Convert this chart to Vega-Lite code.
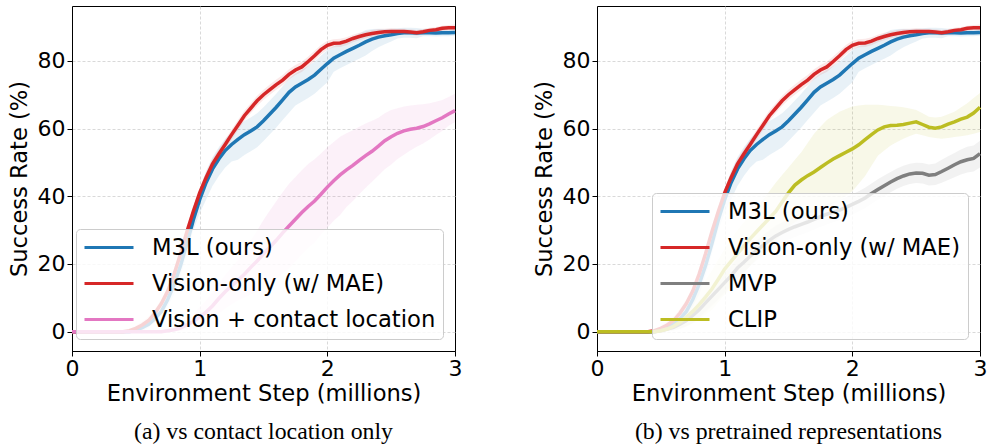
{
  "$schema": "https://vega.github.io/schema/vega-lite/v6.json",
  "background": "white",
  "padding": {"left": 7, "top": 5, "right": 2, "bottom": 2},
  "spacing": 69,
  "config": {
    "font": "DejaVu Sans",
    "view": {"stroke": "black", "strokeWidth": 1},
    "axis": {
      "labelFont": "DejaVu Sans", "titleFont": "DejaVu Sans",
      "labelFontSize": 22, "titleFontSize": 22.6, "titleFontWeight": "normal",
      "labelColor": "black", "titleColor": "black",
      "domainColor": "black", "tickColor": "black", "tickSize": 5, "labelPadding": 2,
      "gridColor": "#cfcfcf", "gridDash": [3, 2], "gridWidth": 0.8
    },
    "title": {"font": "Liberation Serif", "fontSize": 23.8, "fontWeight": "normal", "color": "black"}
  },
  "datasets": {
    "d": [
      {"s":"M3L (ours)","x":0,"y":0,"lo":0,"hi":0},
      {"s":"M3L (ours)","x":0.4,"y":0,"lo":0,"hi":0},
      {"s":"M3L (ours)","x":0.45,"y":0,"lo":0,"hi":0},
      {"s":"M3L (ours)","x":0.5,"y":0.5,"lo":0,"hi":1},
      {"s":"M3L (ours)","x":0.55,"y":1.2,"lo":0.2,"hi":2.7},
      {"s":"M3L (ours)","x":0.6,"y":2.2,"lo":1.2,"hi":3.7},
      {"s":"M3L (ours)","x":0.65,"y":3.8,"lo":2.8,"hi":5.3},
      {"s":"M3L (ours)","x":0.7,"y":6,"lo":5,"hi":7.5},
      {"s":"M3L (ours)","x":0.75,"y":9.5,"lo":7.5,"hi":11.5},
      {"s":"M3L (ours)","x":0.8,"y":14,"lo":11,"hi":17},
      {"s":"M3L (ours)","x":0.85,"y":19.5,"lo":16.5,"hi":22.5},
      {"s":"M3L (ours)","x":0.9,"y":26,"lo":23,"hi":29},
      {"s":"M3L (ours)","x":0.95,"y":33,"lo":30,"hi":36},
      {"s":"M3L (ours)","x":1.0,"y":39,"lo":35,"hi":42},
      {"s":"M3L (ours)","x":1.05,"y":44,"lo":39,"hi":47.5},
      {"s":"M3L (ours)","x":1.1,"y":48,"lo":43,"hi":51.5},
      {"s":"M3L (ours)","x":1.15,"y":51,"lo":46,"hi":54.5},
      {"s":"M3L (ours)","x":1.2,"y":53.5,"lo":48.5,"hi":57},
      {"s":"M3L (ours)","x":1.25,"y":55.3,"lo":50.3,"hi":58.8},
      {"s":"M3L (ours)","x":1.3,"y":56.8,"lo":50.8,"hi":60.8},
      {"s":"M3L (ours)","x":1.35,"y":58.2,"lo":52.2,"hi":62.2},
      {"s":"M3L (ours)","x":1.4,"y":59.3,"lo":53.3,"hi":63.3},
      {"s":"M3L (ours)","x":1.45,"y":60.5,"lo":54.5,"hi":64.5},
      {"s":"M3L (ours)","x":1.5,"y":62.3,"lo":56.3,"hi":66.3},
      {"s":"M3L (ours)","x":1.55,"y":64.3,"lo":58.3,"hi":68.3},
      {"s":"M3L (ours)","x":1.6,"y":66.3,"lo":60.3,"hi":70.3},
      {"s":"M3L (ours)","x":1.65,"y":68.5,"lo":62.5,"hi":72.5},
      {"s":"M3L (ours)","x":1.7,"y":70.7,"lo":64.7,"hi":74.7},
      {"s":"M3L (ours)","x":1.75,"y":72.3,"lo":66.8,"hi":76.3},
      {"s":"M3L (ours)","x":1.8,"y":73.4,"lo":67.9,"hi":77.4},
      {"s":"M3L (ours)","x":1.85,"y":74.5,"lo":69,"hi":78.5},
      {"s":"M3L (ours)","x":1.9,"y":75.8,"lo":70.3,"hi":79.8},
      {"s":"M3L (ours)","x":1.95,"y":77.5,"lo":72,"hi":81.5},
      {"s":"M3L (ours)","x":2.0,"y":79.2,"lo":73.7,"hi":83.2},
      {"s":"M3L (ours)","x":2.05,"y":80.8,"lo":76.8,"hi":84.3},
      {"s":"M3L (ours)","x":2.1,"y":81.8,"lo":77.8,"hi":85.3},
      {"s":"M3L (ours)","x":2.15,"y":82.8,"lo":78.8,"hi":86.3},
      {"s":"M3L (ours)","x":2.2,"y":83.7,"lo":79.7,"hi":87.2},
      {"s":"M3L (ours)","x":2.25,"y":84.6,"lo":80.6,"hi":88.1},
      {"s":"M3L (ours)","x":2.3,"y":85.6,"lo":81.6,"hi":89.1},
      {"s":"M3L (ours)","x":2.35,"y":86.4,"lo":82.9,"hi":89.4},
      {"s":"M3L (ours)","x":2.4,"y":87,"lo":84,"hi":89.5},
      {"s":"M3L (ours)","x":2.45,"y":87.4,"lo":84.9,"hi":89.4},
      {"s":"M3L (ours)","x":2.5,"y":87.7,"lo":85.7,"hi":89.5},
      {"s":"M3L (ours)","x":2.55,"y":88.1,"lo":86.6,"hi":89.6},
      {"s":"M3L (ours)","x":2.6,"y":88.3,"lo":86.8,"hi":89.8},
      {"s":"M3L (ours)","x":2.65,"y":88.3,"lo":86.8,"hi":89.8},
      {"s":"M3L (ours)","x":2.7,"y":88.2,"lo":86.7,"hi":89.7},
      {"s":"M3L (ours)","x":2.75,"y":88.3,"lo":87.3,"hi":89.5},
      {"s":"M3L (ours)","x":2.8,"y":88.3,"lo":87.3,"hi":89.5},
      {"s":"M3L (ours)","x":2.85,"y":88.2,"lo":87.2,"hi":89.4},
      {"s":"M3L (ours)","x":2.9,"y":88.3,"lo":87.3,"hi":89.5},
      {"s":"M3L (ours)","x":2.95,"y":88.3,"lo":87.3,"hi":89.5},
      {"s":"M3L (ours)","x":3.0,"y":88.4,"lo":87.4,"hi":89.6},

      {"s":"Vision-only (w/ MAE)","x":0,"y":0,"lo":0,"hi":0},
      {"s":"Vision-only (w/ MAE)","x":0.4,"y":0,"lo":0,"hi":0},
      {"s":"Vision-only (w/ MAE)","x":0.45,"y":0.3,"lo":0,"hi":0.8},
      {"s":"Vision-only (w/ MAE)","x":0.5,"y":1,"lo":0.3,"hi":1.8},
      {"s":"Vision-only (w/ MAE)","x":0.55,"y":2,"lo":1,"hi":3},
      {"s":"Vision-only (w/ MAE)","x":0.6,"y":3.3,"lo":2.1,"hi":4.5},
      {"s":"Vision-only (w/ MAE)","x":0.65,"y":5.5,"lo":4.2,"hi":6.8},
      {"s":"Vision-only (w/ MAE)","x":0.7,"y":8.3,"lo":7,"hi":9.6},
      {"s":"Vision-only (w/ MAE)","x":0.75,"y":12,"lo":10.6,"hi":13.4},
      {"s":"Vision-only (w/ MAE)","x":0.8,"y":17,"lo":15.5,"hi":18.5},
      {"s":"Vision-only (w/ MAE)","x":0.85,"y":23,"lo":21.5,"hi":24.5},
      {"s":"Vision-only (w/ MAE)","x":0.9,"y":29.5,"lo":28,"hi":31},
      {"s":"Vision-only (w/ MAE)","x":0.95,"y":35.5,"lo":34,"hi":37},
      {"s":"Vision-only (w/ MAE)","x":1.0,"y":41,"lo":39.5,"hi":42.5},
      {"s":"Vision-only (w/ MAE)","x":1.05,"y":45.5,"lo":44,"hi":47},
      {"s":"Vision-only (w/ MAE)","x":1.1,"y":49.5,"lo":48,"hi":51},
      {"s":"Vision-only (w/ MAE)","x":1.15,"y":52.5,"lo":51,"hi":54},
      {"s":"Vision-only (w/ MAE)","x":1.2,"y":55.3,"lo":53.8,"hi":56.8},
      {"s":"Vision-only (w/ MAE)","x":1.25,"y":58.2,"lo":56.7,"hi":59.7},
      {"s":"Vision-only (w/ MAE)","x":1.3,"y":61,"lo":59.5,"hi":62.5},
      {"s":"Vision-only (w/ MAE)","x":1.35,"y":63.8,"lo":62.3,"hi":65.3},
      {"s":"Vision-only (w/ MAE)","x":1.4,"y":66,"lo":64.5,"hi":67.5},
      {"s":"Vision-only (w/ MAE)","x":1.45,"y":68.2,"lo":66.7,"hi":69.7},
      {"s":"Vision-only (w/ MAE)","x":1.5,"y":70,"lo":68.5,"hi":71.5},
      {"s":"Vision-only (w/ MAE)","x":1.55,"y":71.5,"lo":70,"hi":73},
      {"s":"Vision-only (w/ MAE)","x":1.6,"y":73,"lo":71.5,"hi":74.5},
      {"s":"Vision-only (w/ MAE)","x":1.65,"y":74.3,"lo":72.8,"hi":75.8},
      {"s":"Vision-only (w/ MAE)","x":1.7,"y":76,"lo":74.5,"hi":77.5},
      {"s":"Vision-only (w/ MAE)","x":1.75,"y":77.3,"lo":75.8,"hi":78.8},
      {"s":"Vision-only (w/ MAE)","x":1.8,"y":78.2,"lo":76.7,"hi":79.7},
      {"s":"Vision-only (w/ MAE)","x":1.85,"y":79.8,"lo":78.3,"hi":81.3},
      {"s":"Vision-only (w/ MAE)","x":1.9,"y":81.5,"lo":80,"hi":83},
      {"s":"Vision-only (w/ MAE)","x":1.95,"y":83.3,"lo":81.9,"hi":84.7},
      {"s":"Vision-only (w/ MAE)","x":2.0,"y":84.6,"lo":83.3,"hi":85.9},
      {"s":"Vision-only (w/ MAE)","x":2.05,"y":85.2,"lo":84,"hi":86.4},
      {"s":"Vision-only (w/ MAE)","x":2.1,"y":85.3,"lo":84.1,"hi":86.5},
      {"s":"Vision-only (w/ MAE)","x":2.15,"y":85.8,"lo":84.6,"hi":87},
      {"s":"Vision-only (w/ MAE)","x":2.2,"y":86.6,"lo":85.5,"hi":87.7},
      {"s":"Vision-only (w/ MAE)","x":2.25,"y":87.2,"lo":86.1,"hi":88.3},
      {"s":"Vision-only (w/ MAE)","x":2.3,"y":87.7,"lo":86.7,"hi":88.7},
      {"s":"Vision-only (w/ MAE)","x":2.35,"y":88.1,"lo":87.1,"hi":89.1},
      {"s":"Vision-only (w/ MAE)","x":2.4,"y":88.4,"lo":87.4,"hi":89.4},
      {"s":"Vision-only (w/ MAE)","x":2.45,"y":88.6,"lo":87.7,"hi":89.5},
      {"s":"Vision-only (w/ MAE)","x":2.5,"y":88.7,"lo":87.8,"hi":89.6},
      {"s":"Vision-only (w/ MAE)","x":2.55,"y":88.7,"lo":87.9,"hi":89.5},
      {"s":"Vision-only (w/ MAE)","x":2.6,"y":88.7,"lo":87.9,"hi":89.5},
      {"s":"Vision-only (w/ MAE)","x":2.65,"y":88.5,"lo":87.7,"hi":89.3},
      {"s":"Vision-only (w/ MAE)","x":2.7,"y":88.3,"lo":87.5,"hi":89.1},
      {"s":"Vision-only (w/ MAE)","x":2.75,"y":88.6,"lo":87.8,"hi":89.4},
      {"s":"Vision-only (w/ MAE)","x":2.8,"y":89,"lo":88.2,"hi":89.8},
      {"s":"Vision-only (w/ MAE)","x":2.85,"y":89.2,"lo":88.4,"hi":90},
      {"s":"Vision-only (w/ MAE)","x":2.9,"y":89.6,"lo":88.8,"hi":90.4},
      {"s":"Vision-only (w/ MAE)","x":2.95,"y":89.8,"lo":89,"hi":90.6},
      {"s":"Vision-only (w/ MAE)","x":3.0,"y":89.8,"lo":89,"hi":90.7},

      {"s":"Vision + contact location","x":0,"y":0,"lo":0,"hi":0},
      {"s":"Vision + contact location","x":0.7,"y":0,"lo":0,"hi":0},
      {"s":"Vision + contact location","x":0.75,"y":0.3,"lo":0,"hi":0.6},
      {"s":"Vision + contact location","x":0.8,"y":0.6,"lo":0.1,"hi":1.1},
      {"s":"Vision + contact location","x":0.85,"y":1.1,"lo":0.2,"hi":2},
      {"s":"Vision + contact location","x":0.9,"y":2,"lo":0.5,"hi":3.5},
      {"s":"Vision + contact location","x":0.95,"y":3,"lo":0.8,"hi":5.2},
      {"s":"Vision + contact location","x":1.0,"y":4.3,"lo":1.3,"hi":7.3},
      {"s":"Vision + contact location","x":1.05,"y":5.8,"lo":2.3,"hi":9.3},
      {"s":"Vision + contact location","x":1.1,"y":7.6,"lo":3.6,"hi":11.6},
      {"s":"Vision + contact location","x":1.15,"y":9.8,"lo":5.3,"hi":14.3},
      {"s":"Vision + contact location","x":1.2,"y":11.8,"lo":6.8,"hi":16.8},
      {"s":"Vision + contact location","x":1.25,"y":13.5,"lo":8,"hi":19},
      {"s":"Vision + contact location","x":1.3,"y":15.2,"lo":9.2,"hi":21.2},
      {"s":"Vision + contact location","x":1.35,"y":17,"lo":10,"hi":24},
      {"s":"Vision + contact location","x":1.4,"y":19,"lo":11,"hi":27},
      {"s":"Vision + contact location","x":1.45,"y":20.9,"lo":11.9,"hi":29.9},
      {"s":"Vision + contact location","x":1.5,"y":23,"lo":13,"hi":33},
      {"s":"Vision + contact location","x":1.55,"y":25,"lo":14.2,"hi":35.8},
      {"s":"Vision + contact location","x":1.6,"y":27,"lo":15.5,"hi":38.5},
      {"s":"Vision + contact location","x":1.65,"y":29.2,"lo":17.2,"hi":41.2},
      {"s":"Vision + contact location","x":1.7,"y":31.2,"lo":18.7,"hi":43.7},
      {"s":"Vision + contact location","x":1.75,"y":33.2,"lo":20.7,"hi":45.7},
      {"s":"Vision + contact location","x":1.8,"y":35.2,"lo":22.7,"hi":47.7},
      {"s":"Vision + contact location","x":1.85,"y":37,"lo":24.7,"hi":49.5},
      {"s":"Vision + contact location","x":1.9,"y":38.6,"lo":26.3,"hi":50.9},
      {"s":"Vision + contact location","x":1.95,"y":40.6,"lo":28.6,"hi":52.6},
      {"s":"Vision + contact location","x":2.0,"y":42.7,"lo":30.7,"hi":54.5},
      {"s":"Vision + contact location","x":2.05,"y":44.6,"lo":32.8,"hi":56},
      {"s":"Vision + contact location","x":2.1,"y":46.3,"lo":34.5,"hi":57.6},
      {"s":"Vision + contact location","x":2.15,"y":47.8,"lo":36.8,"hi":58.6},
      {"s":"Vision + contact location","x":2.2,"y":49.1,"lo":38.6,"hi":59.5},
      {"s":"Vision + contact location","x":2.25,"y":50.6,"lo":40.6,"hi":60.5},
      {"s":"Vision + contact location","x":2.3,"y":52,"lo":42.5,"hi":61.5},
      {"s":"Vision + contact location","x":2.35,"y":53.3,"lo":44.3,"hi":62.3},
      {"s":"Vision + contact location","x":2.4,"y":54.8,"lo":46.1,"hi":63.2},
      {"s":"Vision + contact location","x":2.45,"y":56.4,"lo":48,"hi":64.5},
      {"s":"Vision + contact location","x":2.5,"y":57.6,"lo":49.4,"hi":65.5},
      {"s":"Vision + contact location","x":2.55,"y":58.6,"lo":51,"hi":66},
      {"s":"Vision + contact location","x":2.6,"y":59.3,"lo":52.3,"hi":66.5},
      {"s":"Vision + contact location","x":2.65,"y":59.8,"lo":53.5,"hi":66.8},
      {"s":"Vision + contact location","x":2.7,"y":60.1,"lo":54.6,"hi":67},
      {"s":"Vision + contact location","x":2.75,"y":60.6,"lo":55.6,"hi":67.2},
      {"s":"Vision + contact location","x":2.8,"y":61.4,"lo":56.8,"hi":67.5},
      {"s":"Vision + contact location","x":2.85,"y":62.3,"lo":58.1,"hi":67.9},
      {"s":"Vision + contact location","x":2.9,"y":63.2,"lo":59.3,"hi":68.4},
      {"s":"Vision + contact location","x":2.95,"y":64.3,"lo":60.8,"hi":69.3},
      {"s":"Vision + contact location","x":3.0,"y":65.3,"lo":61.9,"hi":70.3},

      {"s":"MVP","x":0,"y":0,"lo":0,"hi":0},
      {"s":"MVP","x":0.4,"y":0,"lo":0,"hi":0},
      {"s":"MVP","x":0.45,"y":0,"lo":0,"hi":0},
      {"s":"MVP","x":0.5,"y":0.3,"lo":0,"hi":0.8},
      {"s":"MVP","x":0.55,"y":0.8,"lo":0.1,"hi":1.5},
      {"s":"MVP","x":0.6,"y":1.3,"lo":0.3,"hi":2.3},
      {"s":"MVP","x":0.65,"y":2.2,"lo":0.8,"hi":3.6},
      {"s":"MVP","x":0.7,"y":3.3,"lo":1.5,"hi":5.1},
      {"s":"MVP","x":0.75,"y":4.8,"lo":2.6,"hi":7},
      {"s":"MVP","x":0.8,"y":6.5,"lo":4,"hi":9},
      {"s":"MVP","x":0.85,"y":8.5,"lo":5.8,"hi":11.2},
      {"s":"MVP","x":0.9,"y":10.5,"lo":7.7,"hi":13.3},
      {"s":"MVP","x":0.95,"y":12.5,"lo":9.5,"hi":15.5},
      {"s":"MVP","x":1.0,"y":14.5,"lo":11.5,"hi":17.5},
      {"s":"MVP","x":1.05,"y":16.5,"lo":13.5,"hi":19.5},
      {"s":"MVP","x":1.1,"y":18.8,"lo":15.8,"hi":21.8},
      {"s":"MVP","x":1.15,"y":20.5,"lo":17.5,"hi":23.5},
      {"s":"MVP","x":1.2,"y":22.3,"lo":19.3,"hi":25.3},
      {"s":"MVP","x":1.25,"y":24,"lo":21,"hi":27},
      {"s":"MVP","x":1.3,"y":25.5,"lo":22.5,"hi":28.5},
      {"s":"MVP","x":1.35,"y":27,"lo":24,"hi":30},
      {"s":"MVP","x":1.4,"y":28.3,"lo":25.3,"hi":31.3},
      {"s":"MVP","x":1.45,"y":29.3,"lo":26.3,"hi":32.3},
      {"s":"MVP","x":1.5,"y":30.2,"lo":27.2,"hi":33.2},
      {"s":"MVP","x":1.55,"y":31,"lo":28,"hi":34},
      {"s":"MVP","x":1.6,"y":31.7,"lo":28.7,"hi":34.7},
      {"s":"MVP","x":1.65,"y":32.4,"lo":29.4,"hi":35.4},
      {"s":"MVP","x":1.7,"y":33.2,"lo":30.2,"hi":36.2},
      {"s":"MVP","x":1.75,"y":34,"lo":31,"hi":37},
      {"s":"MVP","x":1.8,"y":34.7,"lo":31.7,"hi":37.7},
      {"s":"MVP","x":1.85,"y":35.3,"lo":32.3,"hi":38.3},
      {"s":"MVP","x":1.9,"y":35.9,"lo":32.9,"hi":38.9},
      {"s":"MVP","x":1.95,"y":36.7,"lo":33.7,"hi":39.7},
      {"s":"MVP","x":2.0,"y":37.6,"lo":34.6,"hi":40.6},
      {"s":"MVP","x":2.05,"y":38.5,"lo":35.5,"hi":41.5},
      {"s":"MVP","x":2.1,"y":39.5,"lo":36.5,"hi":42.5},
      {"s":"MVP","x":2.15,"y":40.8,"lo":37.8,"hi":43.8},
      {"s":"MVP","x":2.2,"y":42,"lo":39,"hi":45},
      {"s":"MVP","x":2.25,"y":43.1,"lo":40.1,"hi":46.1},
      {"s":"MVP","x":2.3,"y":44.2,"lo":41.2,"hi":47.2},
      {"s":"MVP","x":2.35,"y":45.2,"lo":42.2,"hi":48.2},
      {"s":"MVP","x":2.4,"y":46,"lo":43,"hi":49},
      {"s":"MVP","x":2.45,"y":46.6,"lo":43.6,"hi":49.6},
      {"s":"MVP","x":2.5,"y":46.9,"lo":43.9,"hi":49.9},
      {"s":"MVP","x":2.55,"y":46.8,"lo":43.8,"hi":49.8},
      {"s":"MVP","x":2.6,"y":46.2,"lo":43.2,"hi":49.4},
      {"s":"MVP","x":2.65,"y":46.4,"lo":43.3,"hi":49.7},
      {"s":"MVP","x":2.7,"y":47.3,"lo":44,"hi":50.8},
      {"s":"MVP","x":2.75,"y":48.3,"lo":44.8,"hi":51.8},
      {"s":"MVP","x":2.8,"y":49.3,"lo":45.6,"hi":52.8},
      {"s":"MVP","x":2.85,"y":50.2,"lo":46.4,"hi":53.8},
      {"s":"MVP","x":2.9,"y":50.8,"lo":47,"hi":54.6},
      {"s":"MVP","x":2.95,"y":51.2,"lo":47.3,"hi":55},
      {"s":"MVP","x":3.0,"y":52.6,"lo":48.5,"hi":56.4},

      {"s":"CLIP","x":0,"y":0,"lo":0,"hi":0},
      {"s":"CLIP","x":0.4,"y":0,"lo":0,"hi":0},
      {"s":"CLIP","x":0.45,"y":0,"lo":0,"hi":0},
      {"s":"CLIP","x":0.5,"y":0.3,"lo":0,"hi":0.8},
      {"s":"CLIP","x":0.55,"y":0.8,"lo":0.2,"hi":1.8},
      {"s":"CLIP","x":0.6,"y":1.6,"lo":0.5,"hi":3},
      {"s":"CLIP","x":0.65,"y":2.8,"lo":0.9,"hi":5},
      {"s":"CLIP","x":0.7,"y":4.3,"lo":1.5,"hi":7.5},
      {"s":"CLIP","x":0.75,"y":6,"lo":2.4,"hi":10},
      {"s":"CLIP","x":0.8,"y":8,"lo":3.5,"hi":12.5},
      {"s":"CLIP","x":0.85,"y":10.2,"lo":5,"hi":15.3},
      {"s":"CLIP","x":0.9,"y":12.6,"lo":6.5,"hi":18},
      {"s":"CLIP","x":0.95,"y":15.5,"lo":8.7,"hi":21.3},
      {"s":"CLIP","x":1.0,"y":18.5,"lo":11,"hi":24.5},
      {"s":"CLIP","x":1.05,"y":20.8,"lo":13,"hi":27.3},
      {"s":"CLIP","x":1.1,"y":23,"lo":15,"hi":30},
      {"s":"CLIP","x":1.15,"y":25.3,"lo":17.2,"hi":32.3},
      {"s":"CLIP","x":1.2,"y":27.5,"lo":19.5,"hi":34.5},
      {"s":"CLIP","x":1.25,"y":29.5,"lo":21.5,"hi":36.8},
      {"s":"CLIP","x":1.3,"y":31.5,"lo":23.5,"hi":39},
      {"s":"CLIP","x":1.35,"y":33.5,"lo":25.3,"hi":41.5},
      {"s":"CLIP","x":1.4,"y":35.5,"lo":27,"hi":44},
      {"s":"CLIP","x":1.45,"y":38.3,"lo":29,"hi":46.3},
      {"s":"CLIP","x":1.5,"y":41,"lo":31,"hi":48.5},
      {"s":"CLIP","x":1.55,"y":43.3,"lo":32.3,"hi":50.8},
      {"s":"CLIP","x":1.6,"y":44.8,"lo":33.5,"hi":53},
      {"s":"CLIP","x":1.65,"y":46.1,"lo":34.5,"hi":55.7},
      {"s":"CLIP","x":1.7,"y":47.2,"lo":35.5,"hi":58.5},
      {"s":"CLIP","x":1.75,"y":48.5,"lo":36.3,"hi":60.5},
      {"s":"CLIP","x":1.8,"y":49.8,"lo":37,"hi":62.5},
      {"s":"CLIP","x":1.85,"y":51,"lo":38,"hi":63.8},
      {"s":"CLIP","x":1.9,"y":52,"lo":39,"hi":65},
      {"s":"CLIP","x":1.95,"y":53,"lo":40.2,"hi":65.8},
      {"s":"CLIP","x":2.0,"y":54,"lo":41.5,"hi":66.5},
      {"s":"CLIP","x":2.05,"y":55.2,"lo":43.7,"hi":66.8},
      {"s":"CLIP","x":2.1,"y":56.7,"lo":46,"hi":67},
      {"s":"CLIP","x":2.15,"y":58.2,"lo":49,"hi":67},
      {"s":"CLIP","x":2.2,"y":59.6,"lo":52,"hi":67},
      {"s":"CLIP","x":2.25,"y":60.5,"lo":53.5,"hi":66.9},
      {"s":"CLIP","x":2.3,"y":60.9,"lo":55,"hi":66.7},
      {"s":"CLIP","x":2.35,"y":61,"lo":56,"hi":66.5},
      {"s":"CLIP","x":2.4,"y":61.2,"lo":57,"hi":66.3},
      {"s":"CLIP","x":2.45,"y":61.6,"lo":57.8,"hi":65.9},
      {"s":"CLIP","x":2.5,"y":62,"lo":58.5,"hi":65.5},
      {"s":"CLIP","x":2.55,"y":61.2,"lo":58,"hi":64.5},
      {"s":"CLIP","x":2.6,"y":60.4,"lo":57.5,"hi":63.5},
      {"s":"CLIP","x":2.65,"y":60.1,"lo":57.2,"hi":63.3},
      {"s":"CLIP","x":2.7,"y":60.5,"lo":57,"hi":63.5},
      {"s":"CLIP","x":2.75,"y":61.3,"lo":57.2,"hi":64.2},
      {"s":"CLIP","x":2.8,"y":62,"lo":57.5,"hi":65},
      {"s":"CLIP","x":2.85,"y":62.8,"lo":57.7,"hi":66.2},
      {"s":"CLIP","x":2.9,"y":63.4,"lo":58,"hi":67.5},
      {"s":"CLIP","x":2.95,"y":64.6,"lo":58.5,"hi":69},
      {"s":"CLIP","x":3.0,"y":66.3,"lo":59,"hi":70.5}
    ]
  },
  "hconcat": [
    {
      "width": 383, "height": 345,
      "data": {"name": "d"},
      "transform": [{"filter": {"field": "s", "oneOf": ["M3L (ours)", "Vision-only (w/ MAE)", "Vision + contact location"]}}],
      "title": {"text": "(a) vs contact location only", "orient": "bottom", "anchor": "middle", "offset": 15},
      "encoding": {
        "x": {"field": "x", "type": "quantitative", "scale": {"domain": [0, 3], "nice": false, "zero": false},
              "axis": {"values": [0, 1, 2, 3], "format": "d", "title": "Environment Step (millions)", "titlePadding": 3, "labelFlush": false,
                       "gridOpacity": {"condition": {"test": "datum.value >= 3", "value": 0}, "value": 1}}}
      },
      "layer": [
        {
          "mark": {"type": "area", "opacity": 0.1},
          "encoding": {
            "y": {"field": "lo", "type": "quantitative", "scale": {"domain": [-5.7, 96.2], "nice": false, "zero": false},
                  "axis": {"values": [0, 20, 40, 60, 80], "format": "d", "title": "Success Rate (%)", "titlePadding": 6}},
            "y2": {"field": "hi"},
            "fill": {"field": "s", "type": "nominal", "legend": null,
                     "scale": {"domain": ["Vision + contact location", "Vision-only (w/ MAE)", "M3L (ours)"], "range": ["#e377c2", "#d62728", "#1f77b4"]}}
          }
        },
        {
          "mark": {"type": "line", "strokeWidth": 3.5},
          "encoding": {
            "y": {"field": "y", "type": "quantitative"},
            "stroke": {"field": "s", "type": "nominal",
                       "scale": {"domain": ["M3L (ours)", "Vision-only (w/ MAE)", "Vision + contact location"], "range": ["#1f77b4", "#d62728", "#e377c2"]},
                       "legend": {"orient": "bottom-right", "offset": 12, "title": null,
                                  "symbolType": "M-1,0H3.9", "symbolSize": 400, "symbolStrokeWidth": 3,
                                  "labelFont": "DejaVu Sans", "labelFontSize": 22.7, "labelColor": "black", "labelOffset": 46, "labelLimit": 1000,
                                  "rowPadding": 12, "padding": 7,
                                  "fillColor": "rgba(255,255,255,0.8)", "strokeColor": "#cccccc", "cornerRadius": 4}}
          }
        }
      ]
    },
    {
      "width": 383, "height": 345,
      "data": {"name": "d"},
      "transform": [{"filter": {"field": "s", "oneOf": ["M3L (ours)", "Vision-only (w/ MAE)", "MVP", "CLIP"]}}],
      "title": {"text": "(b) vs pretrained representations", "orient": "bottom", "anchor": "middle", "offset": 15},
      "encoding": {
        "x": {"field": "x", "type": "quantitative", "scale": {"domain": [0, 3], "nice": false, "zero": false},
              "axis": {"values": [0, 1, 2, 3], "format": "d", "title": "Environment Step (millions)", "titlePadding": 3, "labelFlush": false,
                       "gridOpacity": {"condition": {"test": "datum.value >= 3", "value": 0}, "value": 1}}}
      },
      "layer": [
        {
          "mark": {"type": "area", "opacity": 0.1},
          "encoding": {
            "y": {"field": "lo", "type": "quantitative", "scale": {"domain": [-5.7, 96.2], "nice": false, "zero": false},
                  "axis": {"values": [0, 20, 40, 60, 80], "format": "d", "title": "Success Rate (%)", "titlePadding": 6}},
            "y2": {"field": "hi"},
            "fill": {"field": "s", "type": "nominal", "legend": null,
                     "scale": {"domain": ["CLIP", "MVP", "Vision-only (w/ MAE)", "M3L (ours)"], "range": ["#bcbd22", "#7f7f7f", "#d62728", "#1f77b4"]}}
          }
        },
        {
          "mark": {"type": "line", "strokeWidth": 3.5},
          "encoding": {
            "y": {"field": "y", "type": "quantitative"},
            "stroke": {"field": "s", "type": "nominal",
                       "scale": {"domain": ["M3L (ours)", "Vision-only (w/ MAE)", "MVP", "CLIP"], "range": ["#1f77b4", "#d62728", "#7f7f7f", "#bcbd22"]},
                       "legend": {"orient": "bottom-right", "offset": 12, "title": null,
                                  "symbolType": "M-1,0H3.9", "symbolSize": 400, "symbolStrokeWidth": 3,
                                  "labelFont": "DejaVu Sans", "labelFontSize": 22.7, "labelColor": "black", "labelOffset": 46, "labelLimit": 1000,
                                  "rowPadding": 12, "padding": 7,
                                  "fillColor": "rgba(255,255,255,0.8)", "strokeColor": "#cccccc", "cornerRadius": 4}}
          }
        }
      ]
    }
  ],
  "resolve": {"scale": {"stroke": "independent", "fill": "independent"}, "legend": {"stroke": "independent", "fill": "independent"}}
}
